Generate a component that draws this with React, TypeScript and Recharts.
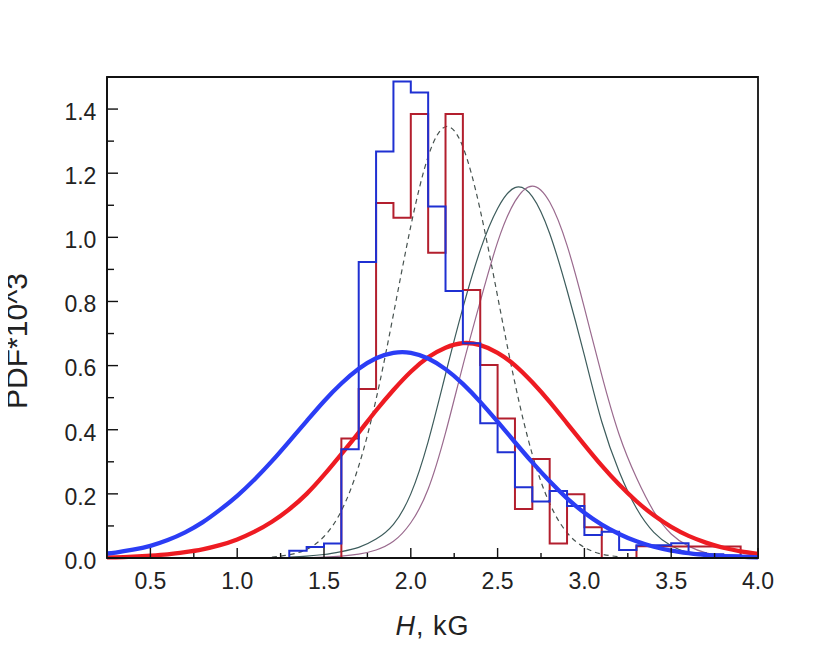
import React from "react";
import { LineChart, Line, XAxis, YAxis, ReferenceArea, Label } from "recharts";

const FONT = "'Liberation Sans', Arial, Helvetica, sans-serif";

// axis ticks
const xTicks = [0.5, 0.75, 1.0, 1.25, 1.5, 1.75, 2.0, 2.25, 2.5, 2.75, 3.0, 3.25, 3.5, 3.75, 4.0];
const xMajor = [0.5, 1.0, 1.5, 2.0, 2.5, 3.0, 3.5, 4.0];
const yTicks = [0, 0.1, 0.2, 0.3, 0.4, 0.5, 0.6, 0.7, 0.8, 0.9, 1.0, 1.1, 1.2, 1.3, 1.4];
const yMajor = [0, 0.2, 0.4, 0.6, 0.8, 1.0, 1.2, 1.4];

// blue histogram (bin edges + heights)
const blueEdges = [1.3, 1.4, 1.5, 1.6, 1.7, 1.8, 1.9, 2.0, 2.1, 2.2, 2.3, 2.4, 2.5, 2.6, 2.7, 2.8, 2.9, 3.0, 3.1, 3.2, 3.3, 3.4, 3.5, 3.6, 3.7, 3.8, 3.9];
const blueHeights = [0.023, 0.034, 0.045, 0.339, 0.923, 1.268, 1.486, 1.452, 1.096, 0.833, 0.67, 0.42, 0.33, 0.221, 0.176, 0.209, 0.162, 0.072, 0.082, 0.025, 0.04, 0.04, 0.046, 0.015, 0.012, 0.008];

// red histogram
const redEdges = [1.6, 1.7, 1.8, 1.9, 2.0, 2.1, 2.2, 2.3, 2.4, 2.5, 2.6, 2.7, 2.8, 2.9, 3.0, 3.1, 3.2, 3.3, 3.4, 3.5, 3.6, 3.7, 3.8, 3.9];
const redHeights = [0.373, 0.527, 1.107, 1.061, 1.385, 0.952, 1.385, 0.836, 0.602, 0.435, 0.153, 0.309, 0.045, 0.199, 0.096, 0, 0, 0.037, 0.037, 0.036, 0.036, 0.036, 0.036];

// thick fitted curves
const thickX = [0.25, 0.3, 0.4, 0.5, 0.6, 0.7, 0.8, 0.9, 1.0, 1.1, 1.2, 1.3, 1.4, 1.5, 1.6, 1.7, 1.8, 1.9, 2.0, 2.1, 2.2, 2.3, 2.4, 2.5, 2.6, 2.7, 2.8, 2.9, 3.0, 3.1, 3.2, 3.3, 3.4, 3.5, 3.6, 3.7, 3.8, 3.9, 4.0];
const blueFit = [0.014, 0.017, 0.026, 0.038, 0.056, 0.08, 0.111, 0.15, 0.194, 0.245, 0.302, 0.364, 0.427, 0.489, 0.544, 0.59, 0.623, 0.64, 0.64, 0.622, 0.589, 0.543, 0.487, 0.425, 0.361, 0.298, 0.239, 0.186, 0.141, 0.104, 0.075, 0.052, 0.035, 0.023, 0.015, 0.009, 0.006, 0.004, 0.002];
const redFit = [0.002, 0.002, 0.004, 0.007, 0.011, 0.018, 0.027, 0.04, 0.058, 0.082, 0.113, 0.152, 0.2, 0.259, 0.324, 0.391, 0.46, 0.524, 0.581, 0.626, 0.656, 0.67, 0.664, 0.64, 0.601, 0.548, 0.487, 0.42, 0.353, 0.288, 0.229, 0.177, 0.133, 0.097, 0.069, 0.048, 0.032, 0.021, 0.013];

// dashed curve
const dashX = [1.2, 1.3, 1.4, 1.5, 1.6, 1.7, 1.8, 1.9, 2.0, 2.1, 2.2, 2.3, 2.4, 2.5, 2.6, 2.7, 2.8, 2.9, 3.0, 3.1, 3.2];
const dashFit = [0.003, 0.01, 0.027, 0.067, 0.147, 0.287, 0.495, 0.76, 1.035, 1.252, 1.345, 1.282, 1.085, 0.816, 0.545, 0.323, 0.17, 0.079, 0.033, 0.012, 0.004];

// thin gray curve
const grayX = [1.3, 1.4, 1.5, 1.6, 1.7, 1.8, 1.9, 2.0, 2.1, 2.2, 2.3, 2.4, 2.5, 2.6, 2.7, 2.8, 2.9, 3.0, 3.1, 3.2, 3.3, 3.4, 3.5, 3.6, 3.7, 3.8];
const grayFit = [0.003, 0.006, 0.011, 0.02, 0.033, 0.059, 0.105, 0.2, 0.363, 0.573, 0.78, 0.96, 1.09, 1.155, 1.127, 1.012, 0.835, 0.632, 0.425, 0.27, 0.155, 0.08, 0.038, 0.016, 0.006, 0.002];

// thin mauve curve
const mauveX = [1.4, 1.5, 1.6, 1.7, 1.8, 1.9, 2.0, 2.1, 2.2, 2.3, 2.4, 2.5, 2.6, 2.7, 2.8, 2.9, 3.0, 3.1, 3.2, 3.3, 3.4, 3.5, 3.6, 3.7, 3.8, 3.9];
const mauveFit = [0.001, 0.003, 0.006, 0.012, 0.025, 0.052, 0.11, 0.215, 0.39, 0.6, 0.8, 0.985, 1.112, 1.16, 1.11, 0.975, 0.78, 0.57, 0.385, 0.25, 0.145, 0.075, 0.037, 0.016, 0.006, 0.002];

const zip = (xs: number[], ys: number[]) => xs.map((x, i) => ({ x, y: ys[i] }));

function stepData(edges: number[], heights: number[]) {
  const pts = [{ x: edges[0], y: 0 }];
  heights.forEach((h, i) => pts.push({ x: edges[i], y: h }));
  const last = edges[edges.length - 1];
  pts.push({ x: last, y: heights[heights.length - 1] });
  pts.push({ x: last, y: 0 });
  return pts;
}

const isIn = (arr: number[], v: number) => arr.some((m) => Math.abs(m - v) < 1e-6);

const XTick = (props: any) => {
  const { x, y, payload } = props;
  const v = Number(payload.value);
  const major = isIn(xMajor, v);
  return (
    <g>
      <line x1={x} y1={y} x2={x} y2={y - (major ? 10 : 5)} stroke="#111" strokeWidth={1.4} />
      {major && (
        <text x={x} y={y + 30.8} textAnchor="middle" fontSize={23} fontFamily={FONT} fill="#222">
          {v.toFixed(1)}
        </text>
      )}
    </g>
  );
};

const YTick = (props: any) => {
  const { x, y, payload } = props;
  const v = Number(payload.value);
  const major = isIn(yMajor, v);
  return (
    <g>
      <line x1={x} y1={y} x2={x + (major ? 11 : 7)} y2={y} stroke="#111" strokeWidth={1.4} />
      {major && (
        <text x={x - 10.6} y={y + 10.8} textAnchor="end" fontSize={23} fontFamily={FONT} fill="#222">
          {v.toFixed(1)}
        </text>
      )}
    </g>
  );
};

const XTitle = (props: any) => {
  const vb = props.viewBox || { x: 107, y: 558, width: 651, height: 102 };
  const cx = vb.x + vb.width / 2;
  const by = vb.y + 77;
  return (
    <text x={cx} y={by} textAnchor="middle" fontSize={27} fontFamily={FONT} fill="#222" letterSpacing={1}>
      <tspan fontStyle="italic">H</tspan>
      <tspan>, kG</tspan>
    </text>
  );
};

const YTitle = (props: any) => {
  const vb = props.viewBox || { x: 0, y: 77, width: 107, height: 481 };
  const bx = vb.x + 27.3;
  const cy = vb.y + 264;
  return (
    <text
      x={bx}
      y={cy}
      textAnchor="middle"
      fontSize={30}
      fontFamily={FONT}
      fill="#222"
      transform={`rotate(-90, ${bx}, ${cy})`}
    >
      PDF*10^3
    </text>
  );
};

export default function App() {
  const common = { dot: false, activeDot: false, isAnimationActive: false, dataKey: "y" } as any;
  return (
    <div style={{ width: 814, height: 660, marginLeft: -8, marginTop: -8 }}>
      <LineChart width={814} height={660} margin={{ top: 77, right: 56, bottom: 0, left: 0 }}>
        <XAxis
          type="number"
          dataKey="x"
          domain={[0.25, 4.0]}
          ticks={xTicks}
          interval={0}
          tickSize={0}
          tickMargin={0}
          tickLine={false}
          tick={<XTick />}
          axisLine={{ stroke: "#111", strokeWidth: 1.8 }}
          height={102}
        >
          <Label content={<XTitle />} />
        </XAxis>
        <YAxis
          type="number"
          domain={[0, 1.5]}
          ticks={yTicks}
          interval={0}
          tickSize={0}
          tickMargin={0}
          tickLine={false}
          tick={<YTick />}
          axisLine={{ stroke: "#111", strokeWidth: 1.8 }}
          width={107}
        >
          <Label content={<YTitle />} />
        </YAxis>
        <ReferenceArea x1={0.25} x2={4.0} y1={0} y2={1.5} fill="none" fillOpacity={0} stroke="#111" strokeWidth={1.8} />
        <Line {...common} data={zip(dashX, dashFit)} type="natural" stroke="#46524f" strokeWidth={1.2} strokeDasharray="5 4" />
        <Line {...common} data={zip(grayX, grayFit)} type="natural" stroke="#3d5c5c" strokeWidth={1.2} />
        <Line {...common} data={zip(mauveX, mauveFit)} type="natural" stroke="#9a6a8e" strokeWidth={1.2} />
        <Line {...common} data={stepData(redEdges, redHeights)} type="stepAfter" stroke="#b31f2e" strokeWidth={2} />
        <Line {...common} data={zip(thickX, redFit)} type="natural" stroke="#ee1b22" strokeWidth={4.3} />
        <Line {...common} data={stepData(blueEdges, blueHeights)} type="stepAfter" stroke="#1f30d2" strokeWidth={2} />
        <Line {...common} data={zip(thickX, blueFit)} type="natural" stroke="#2b3df5" strokeWidth={4.3} />
      </LineChart>
    </div>
  );
}
